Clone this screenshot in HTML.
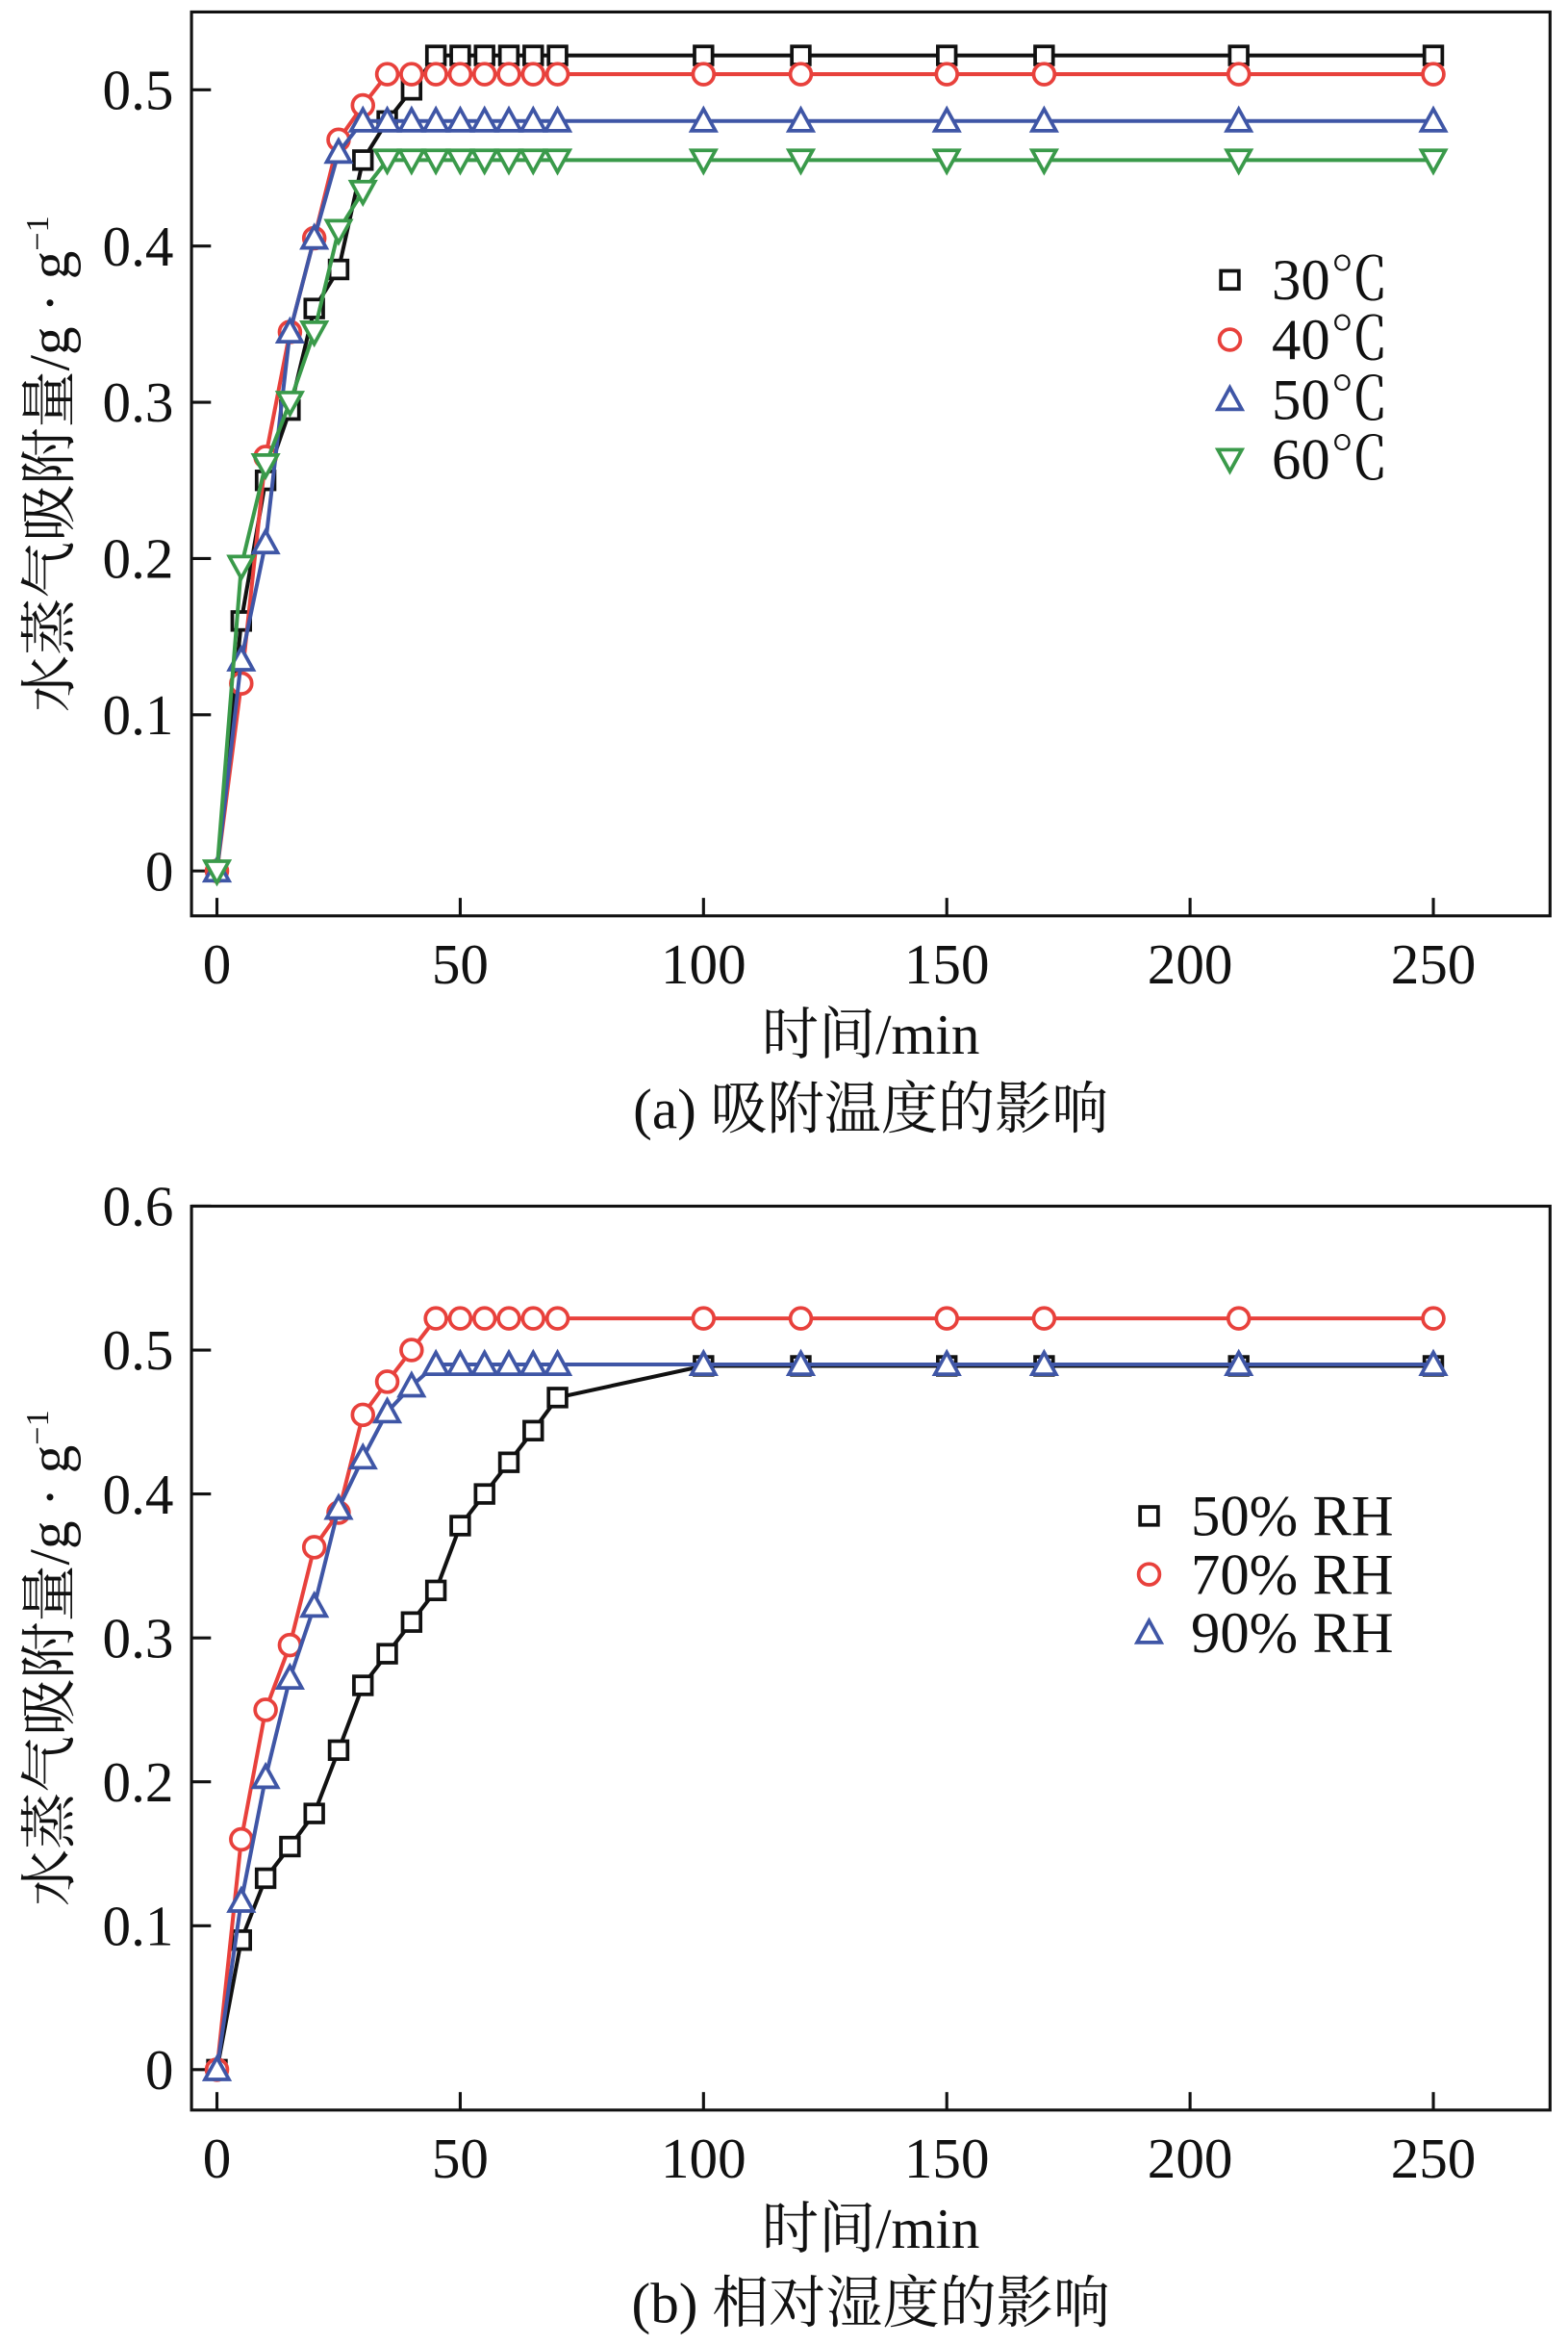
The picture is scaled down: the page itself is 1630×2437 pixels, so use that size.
<!DOCTYPE html>
<html><head><meta charset="utf-8"><style>
html,body{margin:0;padding:0;background:#fff}
svg{display:block}
text{font-family:"Liberation Serif","Noto Serif CJK SC","Noto Sans CJK SC",serif;fill:#111}
</style></head><body>
<svg id="chart" width="1630" height="2437" viewBox="0 0 1048 1567" preserveAspectRatio="none" xmlns="http://www.w3.org/2000/svg"></svg>
<script>
const times=[0,5,10,15,20,25,30,35,40,45,50,55,60,65,70,100,120,150,170,210,250];
const a30=[0,0.16,0.25,0.295,0.36,0.385,0.455,0.48,0.5,0.522,0.522,0.522,0.522,0.522,0.522,0.522,0.522,0.522,0.522,0.522,0.522];
const a40=[0,0.12,0.265,0.345,0.405,0.468,0.49,0.51,0.51,0.51,0.51,0.51,0.51,0.51,0.51,0.51,0.51,0.51,0.51,0.51,0.51];
const a50=[0,0.135,0.21,0.345,0.405,0.46,0.48,0.48,0.48,0.48,0.48,0.48,0.48,0.48,0.48,0.48,0.48,0.48,0.48,0.48,0.48];
const a60=[0,0.195,0.26,0.3,0.345,0.41,0.435,0.455,0.455,0.455,0.455,0.455,0.455,0.455,0.455,0.455,0.455,0.455,0.455,0.455,0.455];
const b50=[0,0.09,0.133,0.155,0.178,0.222,0.267,0.289,0.311,0.333,0.378,0.4,0.422,0.444,0.467,0.489,0.489,0.489,0.489,0.489,0.489];
const b70=[0,0.16,0.25,0.295,0.363,0.387,0.455,0.478,0.5,0.522,0.522,0.522,0.522,0.522,0.522,0.522,0.522,0.522,0.522,0.522,0.522];
const b90=[0,0.117,0.203,0.272,0.322,0.39,0.425,0.457,0.475,0.49,0.49,0.49,0.49,0.49,0.49,0.49,0.49,0.49,0.49,0.49,0.49];
const xTicks=[0,50,100,150,200,250];
const yTicksA=[0,0.1,0.2,0.3,0.4,0.5];
const yTicksB=[0,0.1,0.2,0.3,0.4,0.5,0.6];
const NS="http://www.w3.org/2000/svg";
const svg=document.getElementById('chart');
function el(t,at,p){const e=document.createElementNS(NS,t);for(const k in at)e.setAttribute(k,at[k]);(p||svg).appendChild(e);return e;}
function marker(g,type,x,y,c){
  if(type==='sq') return el('rect',{x:x-6,y:y-6,width:12,height:12,fill:'#fff',stroke:c,'stroke-width':2.4},g);
  if(type==='ci') return el('circle',{cx:x,cy:y,r:7,fill:'#fff',stroke:c,'stroke-width':2.4},g);
  if(type==='up') return el('polygon',{points:`${x},${y-8} ${x-8},${y+6.5} ${x+8},${y+6.5}`,fill:'#fff',stroke:c,'stroke-width':2.4},g);
  return el('polygon',{points:`${x},${y+8} ${x-8},${y-6.5} ${x+8},${y-6.5}`,fill:'#fff',stroke:c,'stroke-width':2.4},g);
}
function panel(name,box,y0px,ypu,yTicks,series,legend,caption){
  const X=v=>145+v*3.252, Y=v=>y0px-v*ypu;
  const g=el('g',{});
  
  
  const fr=el('rect',{x:128,y:box[0],width:908,height:box[1]-box[0],fill:'none',stroke:'#111','stroke-width':2},g);
  
  xTicks.forEach(t=>{
    el('line',{x1:X(t),x2:X(t),y1:box[1],y2:box[1]-12,stroke:'#111','stroke-width':2},g);
    const tx=el('text',{x:X(t),y:box[1]+45,'text-anchor':'middle','font-size':38},g);tx.textContent=t;
    
  });
  yTicks.forEach(t=>{
    el('line',{x1:128,x2:141,y1:Y(t),y2:Y(t),stroke:'#111','stroke-width':2},g);
    const tx=el('text',{x:116,y:Y(t)+13,'text-anchor':'end','font-size':38},g);tx.textContent=t;
    
  });
  const xl=el('text',{x:582,y:box[1]+92,'text-anchor':'middle','font-size':38},g);xl.textContent='时间/min';
  
  const cy=(box[0]+box[1])/2;
  const yl=el('text',{x:0,y:0,'text-anchor':'middle','font-size':38,transform:`translate(46,${cy}) rotate(-90)`},g);
  yl.innerHTML='水蒸气吸附量/g · g<tspan dy="-14" font-size="22">−1</tspan>';
  
  const cp=el('text',{x:582,y:box[1]+142,'text-anchor':'middle','font-size':38},g);cp.textContent=caption;
  
  series.forEach(s=>{
    const sg=el('g',{},g);
    
    el('polyline',{points:times.map((t,i)=>X(t)+','+Y(s.v[i])).join(' '),fill:'none',stroke:s.c,'stroke-width':2.6},sg);
    times.forEach((t,i)=>{const m=marker(sg,s.m,X(t),Y(s.v[i]),s.c);
      });
  });
  series.forEach((s,i)=>{
    const lg=el('g',{},g);
    
    const yy=legend.y+i*legend.dy;
    marker(lg,s.m,legend.x,yy,s.c);
    const t=el('text',{x:legend.x+28,y:yy+13,'font-size':39},lg);t.textContent=s.label;
  });
}
panel('panel-a-temperature',[8,612],582,1044,yTicksA,[
 {id:'30c',v:a30,c:'#111',m:'sq',label:'30℃'},
 {id:'40c',v:a40,c:'#e8413c',m:'ci',label:'40℃'},
 {id:'50c',v:a50,c:'#3f56a6',m:'up',label:'50℃'},
 {id:'60c',v:a60,c:'#3a9a4a',m:'dn',label:'60℃'}],{x:822,y:187,dy:40},'(a) 吸附温度的影响');
panel('panel-b-humidity',[806,1410],1383,961.7,yTicksB,[
 {id:'50rh',v:b50,c:'#111',m:'sq',label:'50% RH'},
 {id:'70rh',v:b70,c:'#e8413c',m:'ci',label:'70% RH'},
 {id:'90rh',v:b90,c:'#3f56a6',m:'up',label:'90% RH'}],{x:768,y:1013,dy:39},'(b) 相对湿度的影响');
</script>
</body></html>
